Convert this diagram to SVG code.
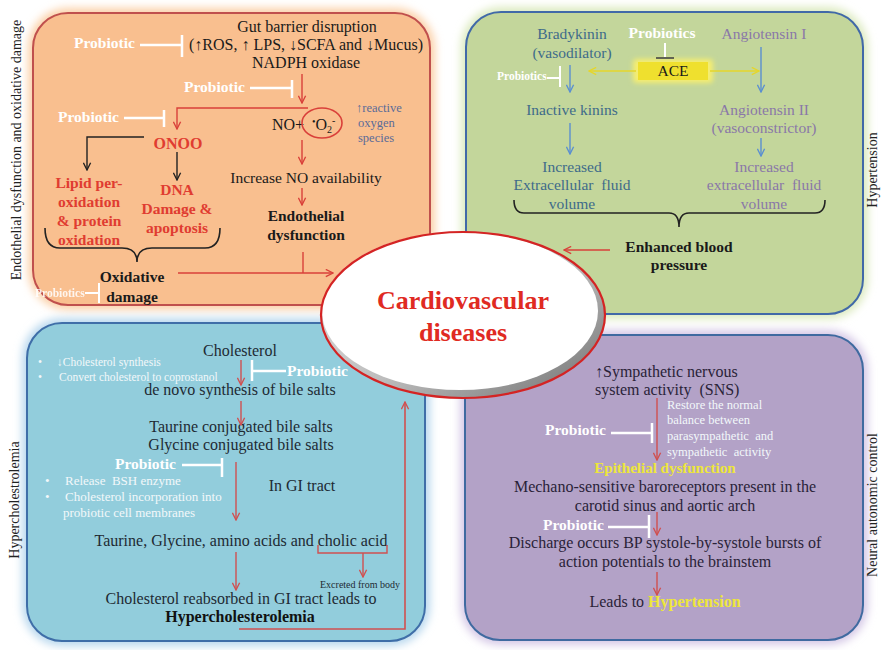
<svg xmlns="http://www.w3.org/2000/svg" width="884" height="650" viewBox="0 0 884 650">
<defs>
<style>
.t{font-family:"Liberation Serif","Times New Roman",serif;font-size:16px;fill:#1a1a1a;text-anchor:middle}
.s{font-size:15.5px}
.b{font-weight:bold}
.st{text-anchor:start}
.pw{font-family:"Liberation Serif",serif;font-size:15.5px;font-weight:bold;fill:#ffffff}
.red{fill:#E03C31}
.blu{fill:#3E6B8A}
.mau{fill:#8A78A8}
.yel{fill:#EDE63A}
.wh{fill:#f2f8fa}
.inh{stroke:#ffffff;stroke-width:2.5;fill:none}
.ra{stroke:#D9403A;stroke-width:1.4;fill:none}
.ra2{stroke:#D05050;stroke-width:1.4;fill:none}
.ba{stroke:#5B8FD0;stroke-width:1.4;fill:none}
.ya{stroke:#E6D62A;stroke-width:1.6;fill:none}
.ka{stroke:#222;stroke-width:1.4;fill:none}
.vl{font-family:"Liberation Serif",serif;font-size:14px;fill:#222;text-anchor:middle}
</style>
<filter id="glow" x="-10%" y="-10%" width="120%" height="120%"><feGaussianBlur stdDeviation="4"/></filter>
<filter id="sglow" x="-30%" y="-50%" width="160%" height="200%"><feGaussianBlur stdDeviation="2.5"/></filter>
<linearGradient id="sh" x1="0" y1="0" x2="1" y2="1"><stop offset="0" stop-color="#e6e6e6"/><stop offset="0.55" stop-color="#bdbdbd"/><stop offset="1" stop-color="#6e6e6e"/></linearGradient>
<marker id="mr" viewBox="0 0 10 10" refX="9" refY="5" markerWidth="9" markerHeight="9" markerUnits="userSpaceOnUse" orient="auto"><path d="M1,1 L9,5 L1,9" fill="none" stroke="#D9403A" stroke-width="1.5"/></marker>
<marker id="mr2" viewBox="0 0 10 10" refX="9" refY="5" markerWidth="9" markerHeight="9" markerUnits="userSpaceOnUse" orient="auto"><path d="M1,1 L9,5 L1,9" fill="none" stroke="#D05050" stroke-width="1.5"/></marker>
<marker id="mb" viewBox="0 0 10 10" refX="9" refY="5" markerWidth="9" markerHeight="9" markerUnits="userSpaceOnUse" orient="auto"><path d="M1,1 L9,5 L1,9" fill="none" stroke="#5B8FD0" stroke-width="1.5"/></marker>
<marker id="my" viewBox="0 0 10 10" refX="9" refY="5" markerWidth="9" markerHeight="9" markerUnits="userSpaceOnUse" orient="auto"><path d="M1,1 L9,5 L1,9" fill="none" stroke="#E6D62A" stroke-width="1.5"/></marker>
<marker id="mk" viewBox="0 0 10 10" refX="9" refY="5" markerWidth="9" markerHeight="9" markerUnits="userSpaceOnUse" orient="auto"><path d="M1,1 L9,5 L1,9" fill="none" stroke="#222" stroke-width="1.5"/></marker>
</defs>
<rect width="884" height="650" fill="#ffffff"/>

<!-- panels -->
<g id="panel-endothelial">
<rect x="28" y="8" width="407" height="302" rx="40" fill="#FBD0A8" filter="url(#glow)"/>
<rect x="33" y="13" width="397" height="292" rx="35" fill="#F9BF8F" stroke="#C0504D" stroke-width="2"/>
</g>
<g id="panel-hypertension">
<rect x="461" y="7" width="407" height="312" rx="40" fill="#DCEABF" filter="url(#glow)"/>
<rect x="466" y="12" width="397" height="302" rx="35" fill="#C3D69B" stroke="#4169A8" stroke-width="2"/>
</g>
<g id="panel-hypercholesterolemia">
<rect x="22" y="318" width="408" height="328" rx="40" fill="#B9D8EE" filter="url(#glow)"/>
<rect x="27" y="323" width="398" height="318" rx="35" fill="#92CDDC" stroke="#3F6EA8" stroke-width="2"/>
</g>
<g id="panel-neural">
<rect x="460" y="330" width="408" height="315" rx="40" fill="#D5C8E6" filter="url(#glow)"/>
<rect x="465" y="335" width="398" height="305" rx="35" fill="#B3A2C7" stroke="#3F6AA0" stroke-width="2"/>
</g>

<!-- side labels -->
<g id="labels">
<text class="vl" transform="translate(21,150) rotate(-90)">Endothelial dysfunction and oxidative damage</text>
<text class="vl" transform="translate(19,500) rotate(-90)">Hypercholestrolemia</text>
<text class="vl" transform="translate(877,170) rotate(-90)">Hypertension</text>
<text class="vl" transform="translate(877,505) rotate(-90)">Neural autonomic control</text>
</g>

<!-- top-left nodes -->
<g id="n-gut"><text class="t" x="307" y="32">Gut barrier disruption</text>
<text class="t" x="306" y="50">(↑ROS, ↑ LPS, ↓SCFA and ↓Mucus)</text>
<text class="t" x="306" y="68">NADPH oxidase</text></g>
<g id="n-probiotic-1"><text class="pw" x="74" y="48">Probiotic</text></g>
<g id="n-probiotic-2"><text class="pw" x="184" y="92">Probiotic</text></g>
<g id="n-probiotic-3"><text class="pw" x="58" y="122">Probiotic</text></g>
<g id="n-no-o2"><text class="t" x="288" y="130">NO+</text>
<ellipse cx="322" cy="123" rx="20" ry="15" fill="none" stroke="#D9403A" stroke-width="1.6"/>
<text class="t st" x="312" y="130"><tspan font-size="10" dy="-5">•</tspan><tspan dy="5">O</tspan><tspan font-size="10" dy="3">2</tspan><tspan font-size="10" dy="-9">-</tspan></text></g>
<g id="n-ros"><text class="t st" x="356" y="112" style="font-size:12.5px;fill:#5B6B98">↑reactive</text>
<text class="t st" x="358" y="127" style="font-size:12.5px;fill:#5B6B98">oxygen</text>
<text class="t st" x="358" y="142" style="font-size:12.5px;fill:#5B6B98">species</text></g>
<g id="n-onoo"><text class="t b red" x="178" y="149">ONOO</text></g>
<g id="n-lipid"><text class="t b red s" x="89" y="188">Lipid per-</text>
<text class="t b red s" x="89" y="207">oxidation</text>
<text class="t b red s" x="89" y="226">&amp; protein</text>
<text class="t b red s" x="89" y="245">oxidation</text></g>
<g id="n-dna"><text class="t b red s" x="177" y="195">DNA</text>
<text class="t b red s" x="177" y="214">Damage &amp;</text>
<text class="t b red s" x="177" y="233">apoptosis</text></g>
<g id="n-no-avail"><text class="t s" x="306" y="183">Increase NO availability</text></g>
<g id="n-endo"><text class="t b s" x="306" y="221">Endothelial</text>
<text class="t b s" x="306" y="240">dysfunction</text></g>
<g id="n-oxdamage"><text class="t b s" x="132" y="282">Oxidative</text>
<text class="t b s" x="132" y="302">damage</text></g>
<g id="n-probiotics-small-1"><text class="pw" x="35" y="297" style="font-size:11.5px;opacity:0.85">Probiotics</text></g>

<!-- top-right nodes -->
<g id="n-brady"><text class="t s blu" x="572" y="39">Bradykinin</text>
<text class="t s blu" x="572" y="58">(vasodilator)</text></g>
<g id="n-probiotics-ace"><text class="pw" x="662" y="38" text-anchor="middle">Probiotics</text></g>
<g id="n-ace"><rect x="633" y="59" width="80" height="24" rx="4" fill="#F6EE70" filter="url(#sglow)"/>
<rect x="638" y="62" width="70" height="18" fill="#EFE02E"/>
<text class="t s" x="673" y="76">ACE</text></g>
<g id="n-probiotics-small-2"><text class="pw" x="497" y="80" style="font-size:11.5px">Probiotics</text></g>
<g id="n-kinins"><text class="t s blu" x="572" y="115">Inactive kinins</text></g>
<g id="n-ecf1"><text class="t s blu" x="572" y="172">Increased</text>
<text class="t s blu" x="572" y="190" xml:space="preserve">Extracellular  fluid</text>
<text class="t s blu" x="572" y="209">volume</text></g>
<g id="n-ang1"><text class="t s mau" x="764" y="39">Angiotensin I</text></g>
<g id="n-ang2"><text class="t s mau" x="764" y="115">Angiotensin II</text>
<text class="t s mau" x="764" y="133">(vasoconstrictor)</text></g>
<g id="n-ecf2"><text class="t s mau" x="764" y="172">Increased</text>
<text class="t s mau" x="764" y="190" xml:space="preserve">extracellular  fluid</text>
<text class="t s mau" x="764" y="209">volume</text></g>
<g id="n-bp"><text class="t b s" x="679" y="252">Enhanced blood</text>
<text class="t b s" x="679" y="270">pressure</text></g>

<!-- bottom-left nodes -->
<g id="n-bl-bullets1">
<text class="t st wh" x="38" y="366" style="font-size:11.5px">•</text><text class="t st wh" x="57" y="366" style="font-size:11.5px">↓Cholesterol synthesis</text>
<text class="t st wh" x="38" y="381" style="font-size:11.5px">•</text><text class="t st wh" x="59" y="381" style="font-size:11.5px">Convert cholesterol to coprostanol</text></g>
<g id="n-cholesterol"><text class="t" x="240" y="356" style="fill:#1e2a33">Cholesterol</text></g>
<g id="n-probiotic-bl1"><text class="pw" x="287" y="376">Probiotic</text></g>
<g id="n-denovo"><text class="t" x="240" y="395" style="fill:#1e2a33">de novo synthesis of bile salts</text></g>
<g id="n-conj"><text class="t" x="241" y="432" style="fill:#1e2a33">Taurine conjugated bile salts</text>
<text class="t" x="241" y="450" style="fill:#1e2a33">Glycine conjugated bile salts</text></g>
<g id="n-probiotic-bl2"><text class="pw" x="115" y="469">Probiotic</text></g>
<g id="n-bl-bullets2">
<text class="t st wh" x="45" y="485" style="font-size:13px">•</text><text class="t st wh" x="65" y="485" style="font-size:13px" xml:space="preserve">Release  BSH enzyme</text>
<text class="t st wh" x="45" y="501" style="font-size:13px">•</text><text class="t st wh" x="65" y="501" style="font-size:13px">Cholesterol incorporation into</text>
<text class="t st wh" x="63" y="517" style="font-size:13px">probiotic cell membranes</text></g>
<g id="n-gi"><text class="t" x="302" y="491" style="fill:#1e2a33">In GI tract</text></g>
<g id="n-aa"><text class="t" x="241" y="546" style="fill:#1e2a33">Taurine, Glycine, amino acids and cholic acid</text></g>
<g id="n-excreted"><text class="t" x="360" y="588" style="font-size:10px;fill:#1e2a33">Excreted from body</text></g>
<g id="n-reabsorbed"><text class="t" x="241" y="604" style="fill:#1e2a33">Cholesterol reabsorbed in GI tract leads to</text>
<text class="t b" x="240" y="622" style="fill:#111">Hypercholesterolemia</text></g>

<!-- bottom-right nodes -->
<g id="n-sns"><text class="t st" x="595" y="377" style="fill:#2a2238">↑Sympathetic nervous</text>
<text class="t st" x="595" y="395" style="fill:#2a2238" xml:space="preserve">system activity  (SNS)</text></g>
<g id="n-restore">
<text class="t st wh" x="667" y="409" style="font-size:12.5px">Restore the normal</text>
<text class="t st wh" x="667" y="424" style="font-size:12.5px">balance between</text>
<text class="t st wh" x="667" y="440" style="font-size:12.5px" xml:space="preserve">parasympathetic  and</text>
<text class="t st wh" x="667" y="456" style="font-size:12.5px" xml:space="preserve">sympathetic  activity</text></g>
<g id="n-probiotic-br1"><text class="pw" x="545" y="435">Probiotic</text></g>
<g id="n-epi"><text class="t b yel" x="665" y="473" style="font-size:15px">Epithelial dysfunction</text></g>
<g id="n-mech"><text class="t" x="665" y="492" style="fill:#2a2238">Mechano-sensitive baroreceptors present in the</text>
<text class="t" x="665" y="511" style="fill:#2a2238">carotid sinus and aortic arch</text></g>
<g id="n-probiotic-br2"><text class="pw" x="543" y="530">Probiotic</text></g>
<g id="n-discharge"><text class="t" x="665" y="548" style="fill:#2a2238">Discharge occurs BP systole-by-systole bursts of</text>
<text class="t" x="665" y="567" style="fill:#2a2238">action potentials to the brainstem</text></g>
<g id="n-leads"><text class="t" x="665" y="607" style="fill:#2a2238">Leads to <tspan class="b yel">Hypertension</tspan></text></g>

<!-- connectors -->
<g id="connectors">
<!-- top-left -->
<path class="inh" d="M140,45 H181 M182,35 V57"/>
<path class="inh" d="M250,88 H291 M292,80 V98"/>
<path class="inh" d="M124,118 H163 M164,110 V127"/>
<path class="inh" d="M85,293 H98 M99,283 V303" style="stroke-width:2"/>
<path class="ra" d="M302,74 V103" marker-end="url(#mr)"/>
<path class="ra" d="M308,108 H177 V129" marker-end="url(#mr)"/>
<path class="ra" d="M302,140 V164" marker-end="url(#mr)"/>
<path class="ra" d="M302,188 V205" marker-end="url(#mr)"/>
<path class="ra" d="M303,252 V273"/>
<path class="ra" d="M178,273 H333" marker-end="url(#mr)"/>
<path class="ka" d="M144,137 H87 V170" marker-end="url(#mk)"/>
<path class="ka" d="M177,152 V180" marker-end="url(#mk)"/>
<path class="ka" style="stroke-width:1.6" d="M45,228 Q45,248 60,248 H122 Q137,248 137,262 Q137,248 152,248 H205 Q220,248 220,228"/>
<!-- top-right -->
<path d="M665,43 V57" stroke="#ffffff" stroke-width="2" fill="none"/>
<path d="M656,58 H674" stroke="#444" stroke-width="1.6" fill="none"/>
<path class="ya" d="M636,71 H589" marker-end="url(#my)"/>
<path class="ya" d="M710,71 H759" marker-end="url(#my)"/>
<path class="ba" d="M570,65 V92" marker-end="url(#mb)"/>
<path class="ba" d="M570,123 V154" marker-end="url(#mb)"/>
<path class="ba" d="M761,47 V92" marker-end="url(#mb)"/>
<path class="ba" d="M761,138 V156" marker-end="url(#mb)"/>
<path class="inh" d="M547,78 H559 M560,66 V87" style="stroke-width:2"/>
<path class="ka" style="stroke-width:1.6" d="M514,200 Q514,213 524,213 H669 Q679,213 679,227 Q679,213 689,213 H815 Q825,213 825,200"/>
<path class="ra" d="M610,250 H564" marker-end="url(#mr)"/>
<!-- bottom-left -->
<path class="ra2" d="M241,360 V385" marker-end="url(#mr2)"/>
<path class="inh" d="M252,360 V381 M252,371 H286"/>
<path class="ra2" d="M241,401 V425" marker-end="url(#mr2)"/>
<path class="inh" d="M182,465 H221 M222,458 V477"/>
<path class="ra2" d="M236,462 V520" marker-end="url(#mr2)"/>
<path class="ra2" d="M318,545 V553 H387 V545"/>
<path class="ra2" d="M363,553 V577" marker-end="url(#mr2)"/>
<path class="ra2" d="M236,552 V590" marker-end="url(#mr2)"/>
<path class="ra2" style="stroke-width:1.6" d="M239,629 H405 V402" marker-end="url(#mr2)"/>
<!-- bottom-right -->
<path class="ra2" d="M657,398 V460" marker-end="url(#mr2)"/>
<path class="inh" d="M611,433 H651 M652,423 V443"/>
<path class="ra2" d="M657,512 V535" marker-end="url(#mr2)"/>
<path class="inh" d="M608,527 H648 M649,515 V538"/>
<path class="ra2" d="M657,572 V595" marker-end="url(#mr2)"/>
</g>

<!-- central node -->
<g id="n-cvd">
<ellipse cx="463" cy="315" rx="142" ry="83" fill="url(#sh)"/>
<ellipse cx="460" cy="311" rx="138" ry="79" fill="#ffffff"/>
<ellipse cx="463" cy="315" rx="142" ry="83" fill="none" stroke="#D42424" stroke-width="2.2"/>
<text class="t b" x="463" y="309" style="font-size:26px;fill:#E02A22">Cardiovascular</text>
<text class="t b" x="463" y="341" style="font-size:26px;fill:#E02A22">diseases</text>
</g>
</svg>
